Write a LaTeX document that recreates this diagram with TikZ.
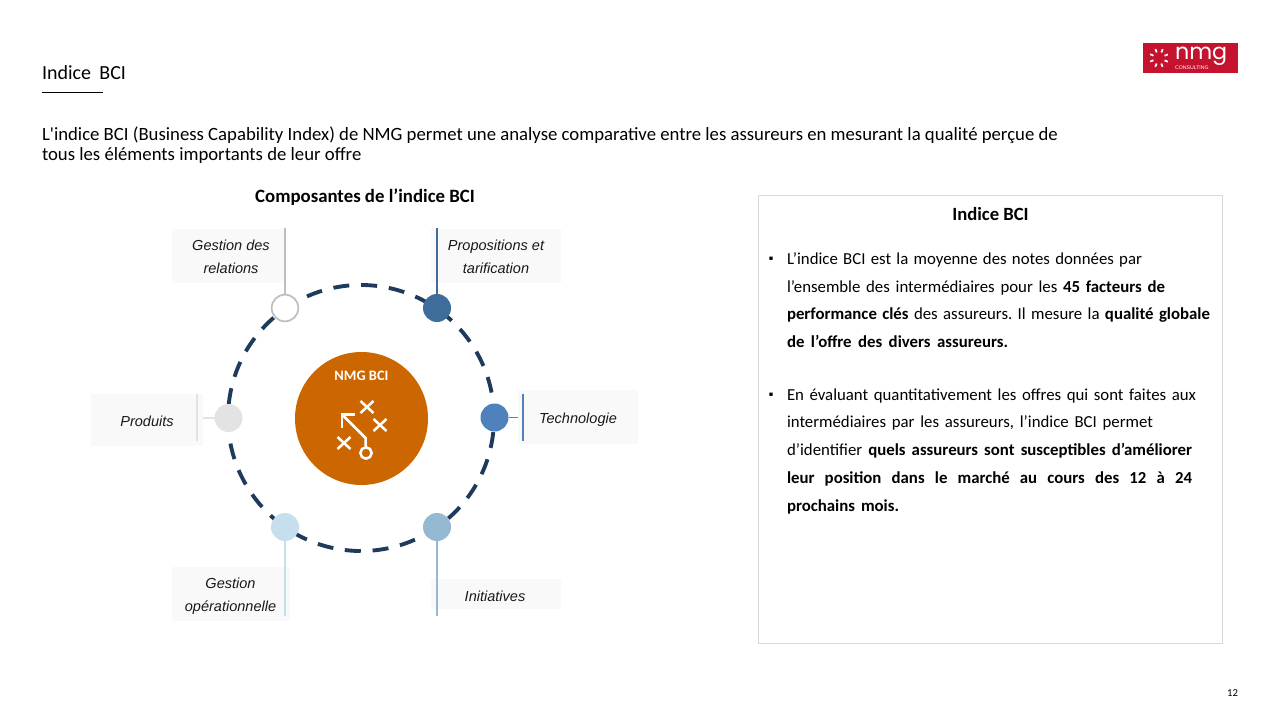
\documentclass[tikz,border=0pt]{standalone}
\usepackage{fontspec}
\usetikzlibrary{calc}
\setmainfont{Carlito}
\newfontfamily\nolig{Carlito}
\newfontfamily\lab{Liberation Sans}
\newfontfamily\sym{DejaVu Sans}
\newfontfamily\logof{Poppins}
\definecolor{navy}{HTML}{1F3B5C}
\definecolor{orangeb}{HTML}{CC6600}
\definecolor{cA}{HTML}{BFBFBF}
\definecolor{cB}{HTML}{3E6C9B}
\definecolor{cC}{HTML}{4F81BD}
\definecolor{cD}{HTML}{95B8D3}
\definecolor{cE}{HTML}{C5DFEF}
\definecolor{cF}{HTML}{E3E3E3}
\definecolor{labbg}{HTML}{F9F9F9}
\definecolor{logored}{HTML}{C4122F}
\newcommand{\bodyline}[2]{\makebox[#1pt][s]{#2}\\}
\tikzset{
  x=0.75pt,y=-0.75pt,
  plain/.style={inner sep=0pt,outer sep=0pt},
  labbox/.style={fill=labbg,draw=none},
  labtext/.style={plain,align=center,font=\lab\itshape\fontsize{10.9pt}{17.2pt}\selectfont,text=black!90},
  dot/.style={circle,minimum size=21pt,inner sep=0pt,outer sep=0pt},
  stem/.style={line width=1.3pt},
  icon/.style={draw=white,line width=1.9pt},
  body/.style={plain,anchor=north west,align=left,font=\fontsize{12.6pt}{20.8pt}\selectfont\frenchspacing},
  bullet/.style={plain,font=\sym\fontsize{5pt}{6pt}\selectfont},
}
\begin{document}
\begin{tikzpicture}
\useasboundingbox (0,0) rectangle (1280,720);
\fill[white] (0,0) rectangle (1280,720);
% header
\node[plain,anchor=base west,font=\fontsize{15pt}{18pt}\selectfont] (title) at (42,80) {\makebox[63pt][s]{Indice BCI}};
\coordinate (ruleA) at (42,92); \coordinate (ruleB) at (103,92);
\draw[line width=0.6pt] (ruleA) -- (ruleB);
\node[plain,anchor=north west,align=left,font=\nolig\fontsize{14.05pt}{15pt}\selectfont] (intro) at (42,126.5)
 {L'indice BCI (Business Capability Index) de NMG permet une analyse comparative entre les assureurs en mesurant la qualité perçue de\\tous les éléments importants de leur offre};
\node[plain,font=\bfseries\fontsize{14.1pt}{16pt}\selectfont] (comp) at (365,197.5) {Composantes de l’indice BCI};
% logo
\node[plain,fill=logored,minimum width=71.25pt,minimum height=22.5pt,anchor=north west] (logo) at (1143,43) {};
\foreach \a in {0,45,...,315}{
  \draw[white,line width=1.3pt] ($(1159,58)+(\a+22:4.5pt)$) -- ($(1159,58)+(\a+22:7.2pt)$);
}
\node[plain,text=white,anchor=base west,font=\logof\fontsize{16.7pt}{17pt}\selectfont] (logoa) at (1175,59.5) {nmg};
\node[plain,text=white,anchor=base west,font=\lab\fontsize{3.9pt}{4pt}\selectfont] (logob) at (1175,69.5) {CONSULTING};
% label backgrounds
\fill[labbox] (172,229) rectangle (285,283);
\fill[labbox] (431,229) rectangle (561,283);
\fill[labbox] (518,390) rectangle (638,444);
\fill[labbox] (91,394) rectangle (203,446);
\fill[labbox] (172,567) rectangle (290,621);
\fill[labbox] (431,579) rectangle (561,609);
% ring
\coordinate (ctr) at (361,418);
\draw[navy,line width=2.9pt,dash pattern=on 12pt off 8.9pt] ($(ctr)+(263:99.75pt)$) arc[start angle=263,end angle=623,radius=99.75pt];
% centre
\node[circle,fill=orangeb,minimum size=99.75pt,plain] (core) at (361.5,418.5) {};
\node[plain,text=white,font=\bfseries\fontsize{10.8pt}{12pt}\selectfont] (coretxt) at (361.5,376) {NMG BCI};
% icon
\node[circle,draw=white,line width=1.9pt,minimum size=8.5pt,plain] (ic) at (366,453) {};
\coordinate (icA) at (365.5,438); \coordinate (icB) at (342,414.5);
\coordinate (icC) at (355,414.5); \coordinate (icD) at (342,428);
\draw[icon,line join=miter] (ic) -- (icA) -- (icB);
\draw[icon] (icC) -- (icB) -- (icD);
\foreach \px/\py in {367/407,380/425,344/443}{
  \draw[icon] (\px-6.5,\py-6) -- (\px+6.5,\py+6) (\px-6.5,\py+6) -- (\px+6.5,\py-6);
}
% dots and stems
\coordinate (sA) at (285,228); \coordinate (sB) at (437,228);
\coordinate (sD) at (437,616); \coordinate (sE) at (285,616);
\coordinate (sCa) at (518,417.5); \coordinate (sFa) at (203,418);
\coordinate (vCa) at (523,394); \coordinate (vCb) at (523,441);
\coordinate (vFa) at (197,394); \coordinate (vFb) at (197,441);
\node[dot,draw=cA,fill=white,line width=1.3pt,minimum size=20pt] (dA) at (285,308) {};
\node[dot,fill=cB] (dB) at (437,308) {};
\node[dot,fill=cC] (dC) at (494.5,417.5) {};
\node[dot,fill=cD] (dD) at (437,527) {};
\node[dot,fill=cE] (dE) at (285,527) {};
\node[dot,fill=cF] (dF) at (228.5,418) {};
\draw[stem,cA] (dA) -- (sA);
\draw[stem,cB] (dB) -- (sB);
\draw[stem,cC] (dC) -- (sCa);
\draw[stem,cC] (vCa) -- (vCb);
\draw[stem,cD] (dD) -- (sD);
\draw[stem,cE] (dE) -- (sE);
\draw[stem,cF] (dF) -- (sFa);
\draw[stem,cF] (vFa) -- (vFb);
% labels
\node[labtext] (lA) at (231,257) {Gestion des\\relations};
\node[labtext] (lB) at (496,257) {Propositions et\\tarification};
\node[labtext] (lC) at (578,419.5) {Technologie};
\node[labtext] (lD) at (495,596) {Initiatives};
\node[labtext] (lE) at (230.5,596) {Gestion\\opérationnelle};
\node[labtext] (lF) at (147,421.5) {Produits};
% right panel
\node[plain,draw=black!15,line width=0.6pt,minimum width=348pt,minimum height=336pt,anchor=north west] (panel) at (758,195) {};
\node[plain,font=\bfseries\fontsize{14pt}{16pt}\selectfont] (ptitle) at (990.5,214) {Indice BCI};
\node[bullet] (b1) at (771,259) {▪};
\node[bullet] (b2) at (771,395) {▪};
\node[body] (p1) at (787,252.5)
 {\bodyline{266.25}{L’indice BCI est la moyenne des notes données par}
  \bodyline{283.5}{l’ensemble des intermédiaires pour les \textbf{45 facteurs de}}
  \bodyline{317.25}{\textbf{performance clés} des assureurs. Il mesure la \textbf{qualité globale}}
  \bodyline{165.75}{\textbf{de l’offre des divers assureurs.}}};
\node[body] (p2) at (787,388.5)
 {\bodyline{306.75}{En évaluant quantitativement les offres qui sont faites aux}
  \bodyline{274.5}{intermédiaires par les assureurs, l’indice BCI permet}
  \bodyline{303.75}{d’identifier \textbf{quels assureurs sont susceptibles d’améliorer}}
  \bodyline{303.75}{\textbf{leur position dans le marché au cours des 12 à 24}}
  \bodyline{84}{\textbf{prochains mois.}}};
\node[plain,anchor=east,font=\fontsize{8pt}{10pt}\selectfont] (pg) at (1238,693) {12};
\end{tikzpicture}
\end{document}
